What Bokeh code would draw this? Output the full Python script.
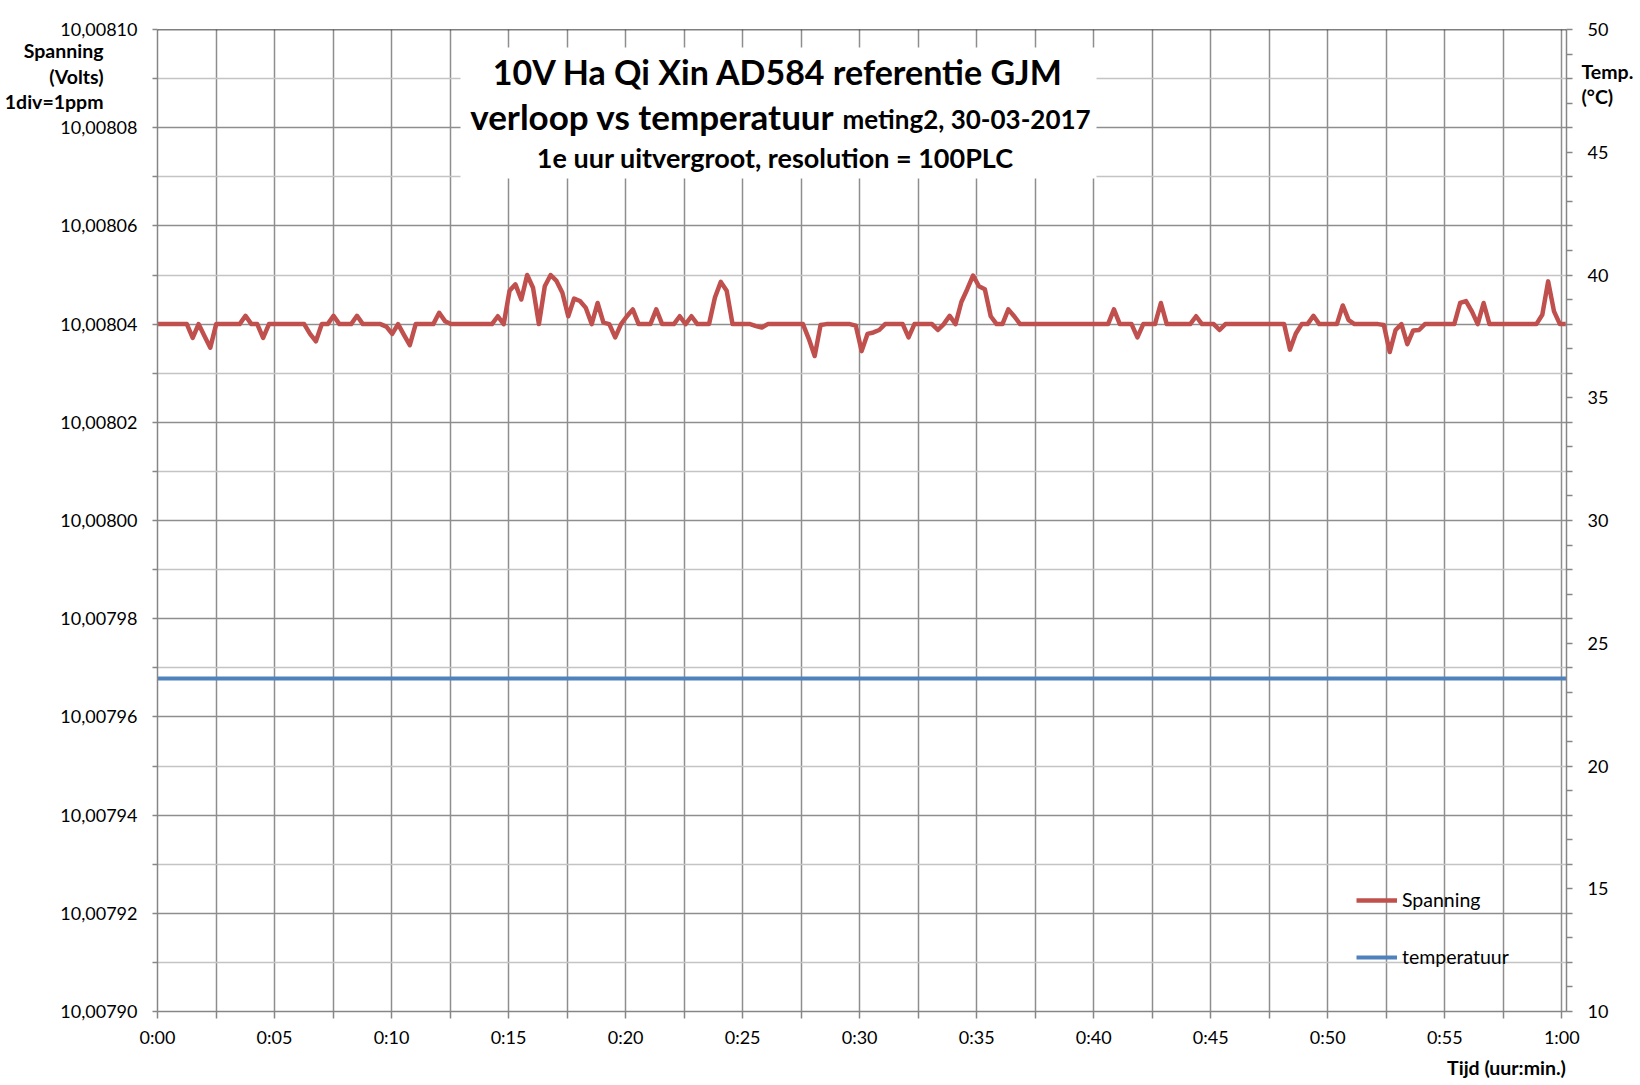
from bokeh.plotting import figure
from bokeh.models import (Range1d, LinearAxis, FixedTicker, CustomJSTickFormatter,
                          Label, BoxAnnotation, Span, Legend, LegendItem)
from bokeh.embed import file_html
from bokeh.resources import INLINE

FONT = "Lato"

# ---------------- data ----------------
# Spanning (Volts), one sample every ~15 s during the first hour
spanning_volt = [
    10.0080400, 10.0080400, 10.0080400, 10.0080400, 10.0080400, 10.0080400, 10.0080372, 10.0080400, 10.0080376, 10.0080352,
    10.0080400, 10.0080400, 10.0080400, 10.0080400, 10.0080400, 10.0080417, 10.0080400, 10.0080400, 10.0080372, 10.0080400,
    10.0080400, 10.0080400, 10.0080400, 10.0080400, 10.0080400, 10.0080400, 10.0080380, 10.0080365, 10.0080400, 10.0080400,
    10.0080417, 10.0080400, 10.0080400, 10.0080400, 10.0080417, 10.0080400, 10.0080400, 10.0080400, 10.0080400, 10.0080395,
    10.0080380, 10.0080400, 10.0080378, 10.0080357, 10.0080400, 10.0080400, 10.0080400, 10.0080400, 10.0080423, 10.0080406,
    10.0080400, 10.0080400, 10.0080400, 10.0080400, 10.0080400, 10.0080400, 10.0080400, 10.0080400, 10.0080416, 10.0080400,
    10.0080468, 10.0080481, 10.0080450, 10.0080500, 10.0080474, 10.0080400, 10.0080477, 10.0080500, 10.0080488, 10.0080464,
    10.0080416, 10.0080452, 10.0080447, 10.0080433, 10.0080400, 10.0080443, 10.0080403, 10.0080400, 10.0080373, 10.0080400,
    10.0080416, 10.0080430, 10.0080400, 10.0080400, 10.0080400, 10.0080430, 10.0080400, 10.0080400, 10.0080400, 10.0080416,
    10.0080400, 10.0080416, 10.0080400, 10.0080400, 10.0080400, 10.0080454, 10.0080486, 10.0080468, 10.0080400, 10.0080400,
    10.0080400, 10.0080400, 10.0080396, 10.0080393, 10.0080400, 10.0080400, 10.0080400, 10.0080400, 10.0080400, 10.0080400,
    10.0080400, 10.0080370, 10.0080335, 10.0080398, 10.0080400, 10.0080400, 10.0080400, 10.0080400, 10.0080400, 10.0080397,
    10.0080345, 10.0080380, 10.0080383, 10.0080388, 10.0080400, 10.0080400, 10.0080400, 10.0080400, 10.0080373, 10.0080400,
    10.0080400, 10.0080400, 10.0080400, 10.0080388, 10.0080400, 10.0080417, 10.0080400, 10.0080445, 10.0080471, 10.0080499,
    10.0080477, 10.0080471, 10.0080416, 10.0080400, 10.0080400, 10.0080430, 10.0080416, 10.0080400, 10.0080400, 10.0080400,
    10.0080400, 10.0080400, 10.0080400, 10.0080400, 10.0080400, 10.0080400, 10.0080400, 10.0080400, 10.0080400, 10.0080400,
    10.0080400, 10.0080400, 10.0080400, 10.0080430, 10.0080400, 10.0080400, 10.0080400, 10.0080373, 10.0080400, 10.0080400,
    10.0080400, 10.0080443, 10.0080400, 10.0080400, 10.0080400, 10.0080400, 10.0080400, 10.0080416, 10.0080400, 10.0080400,
    10.0080400, 10.0080388, 10.0080400, 10.0080400, 10.0080400, 10.0080400, 10.0080400, 10.0080400, 10.0080400, 10.0080400,
    10.0080400, 10.0080400, 10.0080400, 10.0080348, 10.0080381, 10.0080400, 10.0080400, 10.0080417, 10.0080400, 10.0080400,
    10.0080400, 10.0080400, 10.0080438, 10.0080408, 10.0080400, 10.0080400, 10.0080400, 10.0080400, 10.0080400, 10.0080398,
    10.0080343, 10.0080388, 10.0080400, 10.0080359, 10.0080387, 10.0080388, 10.0080400, 10.0080400, 10.0080400, 10.0080400,
    10.0080400, 10.0080400, 10.0080443, 10.0080447, 10.0080426, 10.0080400, 10.0080443, 10.0080400, 10.0080400, 10.0080400,
    10.0080400, 10.0080400, 10.0080400, 10.0080400, 10.0080400, 10.0080400, 10.0080419, 10.0080487, 10.0080426, 10.0080400,
    10.0080400,
]
sample_interval_min = 0.2507          # ~15 s between readings
tijd_min = [i * sample_interval_min for i in range(len(spanning_volt))]

# temperatuur (°C)
temp_tijd_min = [0, 5, 10, 15, 20, 25, 30, 35, 40, 45, 50, 55, 60.2]
temp_c = [23.56, 23.56, 23.56, 23.56, 23.56, 23.56, 23.56, 23.56, 23.56, 23.56, 23.56, 23.56, 23.56]

# axes
x_major = [0, 5, 10, 15, 20, 25, 30, 35, 40, 45, 50, 55, 60]
x_minor = [2.5, 7.5, 12.5, 17.5, 22.5, 27.5, 32.5, 37.5, 42.5, 47.5, 52.5, 57.5]
y_major = [10.00790, 10.00792, 10.00794, 10.00796, 10.00798, 10.00800,
           10.00802, 10.00804, 10.00806, 10.00808, 10.00810]
y_minor = [10.00791, 10.00793, 10.00795, 10.00797, 10.00799,
           10.00801, 10.00803, 10.00805, 10.00807, 10.00809]
t_major = [10, 15, 20, 25, 30, 35, 40, 45, 50]
t_minor = [11, 12, 13, 14, 16, 17, 18, 19, 21, 22, 23, 24, 26, 27, 28, 29,
           31, 32, 33, 34, 36, 37, 38, 39, 41, 42, 43, 44, 46, 47, 48, 49]

title_1 = "10V Ha Qi Xin AD584 referentie GJM"
title_2a = "verloop vs temperatuur"
title_2b = "meting2, 30-03-2017"
title_3 = "1e uur uitvergroot,  resolution = 100PLC"
left_title = ["Spanning", "(Volts)", "1div=1ppm"]
right_title = ["Temp.", "(°C)"]
x_title = "Tijd (uur:min.)"
legend_labels = ["Spanning", "temperatuur"]

X0, X1 = 0, 60.2
Y0, Y1 = 10.00790, 10.00810
T0, T1 = 10, 50

# ---------------- layout helpers (page pixels -> data) ----------------
FL, FT, FW, FH = 157, 29, 1409, 982


def tx(px):
    return X0 + (px - FL) / FW * (X1 - X0)


def vy(py):
    return Y1 - (py - FT) / FH * (Y1 - Y0)


def ty(py):
    return T1 - (py - FT) / FH * (T1 - T0)


GRID = "#8e8e8e"
GRID_MINOR = "#c4c4c4"
AXIS = "#868686"
RED = "#C0504D"
BLUE = "#4F81BD"

p = figure(frame_width=FW, frame_height=FH, output_backend="svg", toolbar_location=None,
           x_range=Range1d(X0, X1), y_range=Range1d(Y0, Y1),
           min_border_left=FL, min_border_top=FT, min_border_right=72, min_border_bottom=70)
p.outline_line_color = None
p.background_fill_color = "white"
p.extra_y_ranges = {"temp": Range1d(T0, T1)}

xticker = FixedTicker(ticks=x_major, minor_ticks=x_minor)
yticker = FixedTicker(ticks=y_major, minor_ticks=y_minor)
tticker = FixedTicker(ticks=t_major, minor_ticks=t_minor)

# x axis
xa = p.xaxis[0]
xa.ticker = xticker
xa.formatter = CustomJSTickFormatter(code="""
const m = Math.round(tick);
return Math.floor(m/60) + ':' + String(m % 60).padStart(2, '0');
""")
# left axis
ya = p.left[0]
ya.ticker = yticker
ya.formatter = CustomJSTickFormatter(code="return tick.toFixed(5).replace('.', ',');")
# right axis
ra = LinearAxis(y_range_name="temp", ticker=tticker)
p.add_layout(ra, "right")

for ax, tick_len, standoff in ((xa, 7, 7), (ya, 5, 15), (ra, 6, 15)):
    ax.axis_line_color = AXIS
    ax.axis_line_width = 1.5
    ax.major_tick_line_color = AXIS
    ax.minor_tick_line_color = AXIS
    ax.major_tick_line_width = 1.5
    ax.minor_tick_line_width = 1.5
    ax.major_tick_in = 0
    ax.minor_tick_in = 0
    ax.major_tick_out = tick_len
    ax.minor_tick_out = tick_len
    ax.major_label_standoff = standoff
    ax.major_label_text_font = FONT
    ax.major_label_text_font_size = "18px"
    ax.major_label_text_color = "black"


def text_axis(ticks, labels, standoff, **kw):
    ax = LinearAxis(ticker=FixedTicker(ticks=ticks, minor_ticks=[]),
                    formatter=CustomJSTickFormatter(args=dict(labels=labels), code="return labels[index];"),
                    **kw)
    ax.axis_line_color = None
    ax.major_tick_line_color = None
    ax.minor_tick_line_color = None
    ax.major_tick_in = 0
    ax.major_tick_out = 0
    ax.minor_tick_in = 0
    ax.minor_tick_out = 0
    ax.major_label_standoff = standoff
    ax.major_label_text_font = FONT
    ax.major_label_text_font_size = "19.5px"
    ax.major_label_text_font_style = "bold"
    ax.major_label_text_color = "black"
    return ax


# axis titles (ticks in ascending order)
p.add_layout(text_axis([vy(101), vy(76), vy(50)], [left_title[2], left_title[1], left_title[0]], -46), "left")
p.add_layout(text_axis([ty(96), ty(71)], [right_title[1], right_title[0]], -30, y_range_name="temp"), "right")
p.add_layout(text_axis([tx(1506)], [x_title], 5), "below")

p.xgrid.ticker = xticker
p.xgrid.grid_line_color = GRID
p.xgrid.grid_line_width = 1.5
p.xgrid.minor_grid_line_color = GRID
p.xgrid.minor_grid_line_width = 1.5
p.ygrid.ticker = yticker
p.ygrid.grid_line_color = GRID
p.ygrid.grid_line_width = 1.5
p.ygrid.minor_grid_line_color = GRID_MINOR
p.ygrid.minor_grid_line_width = 1.5

# top border
p.add_layout(Span(location=Y1, dimension="width", line_color="black", line_width=1.5))

# data lines
r_temp = p.line(temp_tijd_min, temp_c, y_range_name="temp", line_color=BLUE, line_width=4)
r_span = p.line(tijd_min, spanning_volt, line_color=RED, line_width=4.5, line_join="round")

# title box
p.add_layout(BoxAnnotation(left=tx(460), right=tx(1096), top=vy(47), bottom=vy(178),
                           fill_color="white", fill_alpha=1.0, line_color=None))


def lab(text, px, py, size, align="center"):
    p.add_layout(Label(x=tx(px), y=vy(py), text=text, text_font=FONT,
                       text_font_size=f"{size}px", text_font_style="bold",
                       text_align=align, text_baseline="middle", text_color="black"))


lab(title_1, 778, 71, 34)
lab(title_2a, 834, 115, 35, align="right")
lab(title_2b, 842, 118, 26, align="left")
lab(title_3, 778, 157, 27)

legend = Legend(items=[LegendItem(label=legend_labels[0], renderers=[r_span]),
                       LegendItem(label=legend_labels[1], renderers=[r_temp])],
                location=(1356 - FL, 43), orientation="vertical",
                background_fill_alpha=0, border_line_alpha=0, padding=0, margin=0,
                spacing=34, glyph_width=41, glyph_height=20, label_height=20, label_standoff=5,
                label_text_font=FONT, label_text_font_size="19.5px", label_text_color="black")
p.add_layout(legend)

open("out.html", "w").write(file_html(p, INLINE))
